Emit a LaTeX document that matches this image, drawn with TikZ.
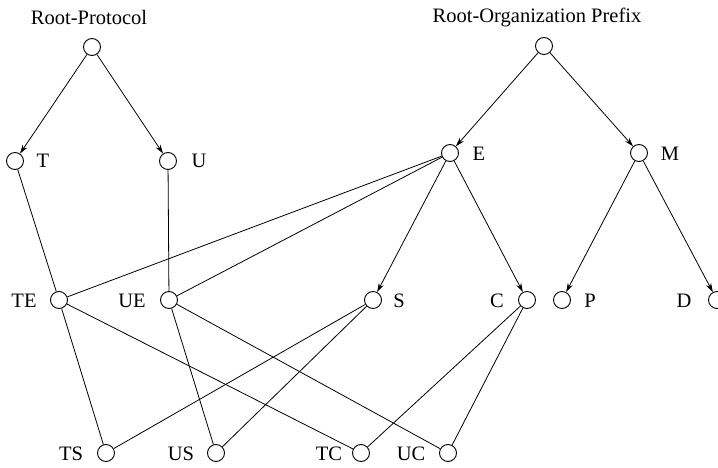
\documentclass[tikz,border=0pt]{standalone}
\usepackage{fontspec}
\setmainfont{Liberation Serif}
\usetikzlibrary{arrows.meta}
\begin{document}
\begin{tikzpicture}[x=1pt,y=-1pt,
  vtx/.style={circle,draw,line width=0.9pt,minimum size=17pt,inner sep=0pt},
  lbl/.style={font=\fontsize{20.5}{24}\selectfont,inner sep=0pt,anchor=center},
  arr/.style={line width=0.8pt,-{Stealth[length=9pt,width=5.5pt]}},
  ln/.style={line width=0.8pt}]
\useasboundingbox (0,0) rectangle (718,468);
\clip (0,0) rectangle (718,468);
% titles
\node[lbl] (t1) at (89,17) {Root-Protocol};
\node[lbl] (t2) at (537,17) {Root-Organization Prefix};
% vertices
\node[vtx] (RP) at (92,47) {};
\node[vtx] (RO) at (544,46) {};
\node[vtx] (T) at (15,161) {};
\node[vtx] (U) at (168,161) {};
\node[vtx] (E) at (450,153) {};
\node[vtx] (M) at (639,153) {};
\node[vtx] (TE) at (59,300) {};
\node[vtx] (UE) at (169,300) {};
\node[vtx] (S) at (373,300) {};
\node[vtx] (C) at (527,300) {};
\node[vtx] (P) at (562,300) {};
\node[vtx] (D) at (717,300) {};
\node[vtx] (TS) at (106,453) {};
\node[vtx] (US) at (216,453) {};
\node[vtx] (TC) at (361,453) {};
\node[vtx] (UC) at (448,453) {};
% labels
\node[lbl] (lT) at (43,161) {T};
\node[lbl] (lU) at (199,161) {U};
\node[lbl] (lE) at (479,154) {E};
\node[lbl] (lM) at (670,154) {M};
\node[lbl] (lTE) at (24,301) {TE};
\node[lbl] (lUE) at (132,301) {UE};
\node[lbl] (lS) at (399,301) {S};
\node[lbl] (lC) at (497,301) {C};
\node[lbl] (lP) at (590,301) {P};
\node[lbl] (lD) at (684,301) {D};
\node[lbl] (lTS) at (71,454) {TS};
\node[lbl] (lUS) at (181,454) {US};
\node[lbl] (lTC) at (329,454) {TC};
\node[lbl] (lUC) at (411,454) {UC};
% arrows
\draw[arr] (RP) -- (T);
\draw[arr] (RP) -- (U);
\draw[arr] (RO) -- (E);
\draw[arr] (RO) -- (M);
\draw[arr] (E) -- (S);
\draw[arr] (E) -- (C);
\draw[arr] (M) -- (P);
\draw[arr] (M) -- (D);
% lines
\draw[ln] (T) -- (TE);
\draw[ln] (U) -- (UE);
\draw[ln] (E) -- (TE);
\draw[ln] (E) -- (UE);
\draw[ln] (TE) -- (TS);
\draw[ln] (TE) -- (TC);
\draw[ln] (UE) -- (US);
\draw[ln] (UE) -- (UC);
\draw[ln] (S) -- (TS);
\draw[ln] (S) -- (US);
\draw[ln] (C) -- (TC);
\draw[ln] (C) -- (UC);
\end{tikzpicture}
\end{document}
